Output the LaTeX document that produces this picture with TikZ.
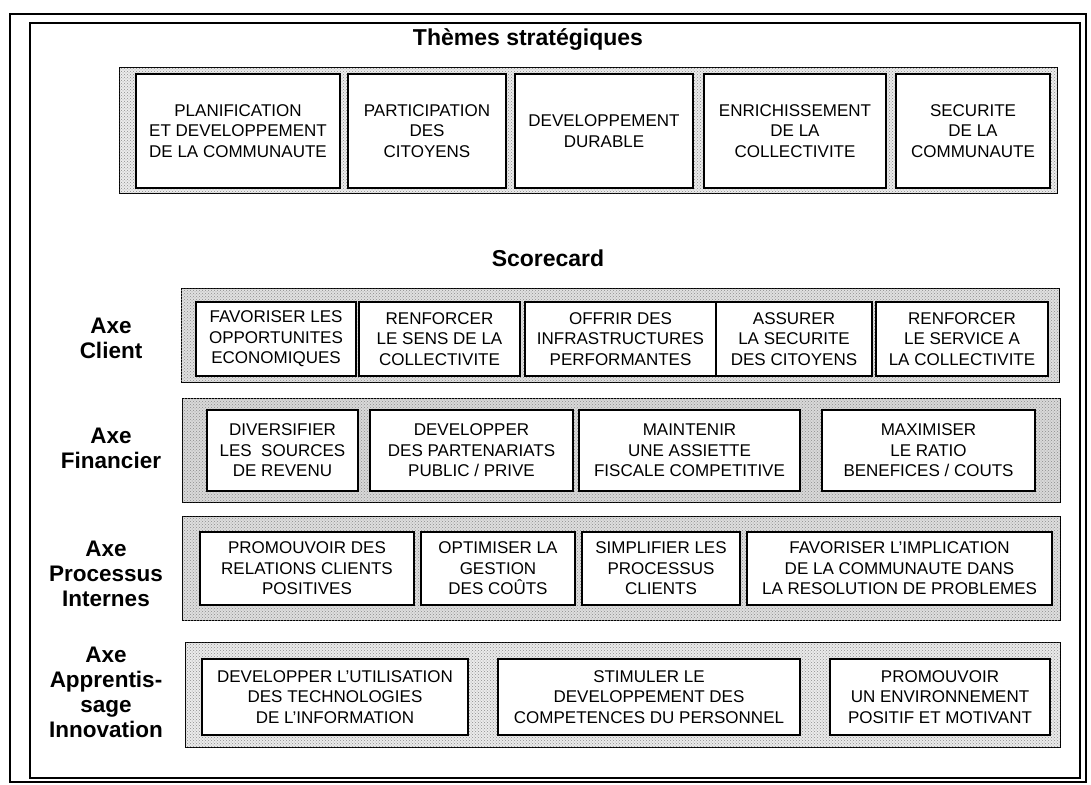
\documentclass[tikz,border=0pt]{standalone}
\usepackage{fontspec}
\setmainfont{Liberation Sans}
\usetikzlibrary{patterns}
\newcommand\cellbox[6]{\node[cell, minimum width={(#3-#2)*1pt}, minimum height={(#5-#4)*1pt}] (#1) at ({(#2+#3)/2},{(#4+#5)/2}) {#6};}
\newcommand\bandbox[6]{\node[band=#6, minimum width={(#3-#2)*1pt}, minimum height={(#5-#4)*1pt}] (#1) at ({(#2+#3)/2},{(#4+#5)/2}) {};}
\begin{document}
\begin{tikzpicture}[x=1pt,y=-1pt,
  cell/.style={draw=black, line width=1.3pt, fill=white, inner sep=0pt, align=center,
    font=\fontsize{17}{20.5}\selectfont},
  band/.style={draw=black, line width=1pt, fill=black!#1, inner sep=0pt,
    postaction={pattern=crosshatch dots, pattern color=black!45}},
  lab/.style={align=center, font=\fontsize{22.5}{25}\selectfont\bfseries},
  ttl/.style={font=\fontsize{23}{27}\selectfont\bfseries},
  frame/.style={draw=black, line width=1.4pt}]
\useasboundingbox (0,0) rectangle (1091,784);
\path[fill=white] (0,0) rectangle (1091,784);
% page frames
\node[frame, inner sep=0pt, minimum width=1076pt, minimum height=768pt] (outer) at (548,398) {};
\node[frame, inner sep=0pt, minimum width=1050pt, minimum height=755pt] (inner) at (555,400.5) {};
% titles
\node[ttl] (themes) at (528,40) {Thèmes stratégiques};
\node[ttl] (score) at (548,258) {Scorecard};
% strategic themes
\bandbox{bt}{119}{1057}{67}{193}{8}
\cellbox{t1}{136}{340}{74}{188}{PLANIFICATION\\ET DEVELOPPEMENT\\DE LA COMMUNAUTE}
\cellbox{t2}{348}{506}{74}{188}{PARTICIPATION\\DES\\CITOYENS}
\cellbox{t3}{515}{693}{74}{188}{DEVELOPPEMENT\\DURABLE}
\cellbox{t4}{704}{886}{74}{188}{ENRICHISSEMENT\\DE LA\\COLLECTIVITE}
\cellbox{t5}{896}{1050}{74}{188}{SECURITE\\DE LA\\COMMUNAUTE}
% client
\node[lab] (lc) at (111,338) {Axe\\Client};
\bandbox{bc}{181}{1059}{288}{382}{12}
\cellbox{c1}{196}{356}{302}{376}{FAVORISER LES\\OPPORTUNITES\\ECONOMIQUES}
\cellbox{c2}{359}{520}{302}{376}{RENFORCER\\LE SENS DE LA\\COLLECTIVITE}
\cellbox{c3}{525}{716}{302}{376}{OFFRIR DES\\INFRASTRUCTURES\\PERFORMANTES}
\cellbox{c4}{716}{872}{302}{376}{ASSURER\\LA SECURITE\\DES CITOYENS}
\cellbox{c5}{876}{1048}{302}{376}{RENFORCER\\LE SERVICE A\\LA COLLECTIVITE}
% financier
\node[lab] (lf) at (111,448) {Axe\\Financier};
\bandbox{bf}{182}{1060}{398}{502}{15}
\cellbox{f1}{207}{358}{410}{491}{DIVERSIFIER\\LES\ \ SOURCES\\DE REVENU}
\cellbox{f2}{370}{573}{410}{491}{DEVELOPPER\\DES PARTENARIATS\\PUBLIC / PRIVE}
\cellbox{f3}{579}{800}{410}{491}{MAINTENIR\\UNE ASSIETTE\\FISCALE COMPETITIVE}
\cellbox{f4}{822}{1035}{410}{491}{MAXIMISER\\LE RATIO\\BENEFICES / COUTS}
% processus
\node[lab] (lp) at (106,574) {Axe\\Processus\\Internes};
\bandbox{bp}{182}{1060}{516}{620}{13}
\cellbox{p1}{200}{414}{532}{605}{PROMOUVOIR DES\\RELATIONS CLIENTS\\POSITIVES}
\cellbox{p2}{421}{575}{532}{605}{OPTIMISER LA\\GESTION\\DES COÛTS}
\cellbox{p3}{582}{740}{532}{605}{SIMPLIFIER LES\\PROCESSUS\\CLIENTS}
\cellbox{p4}{747}{1052}{532}{605}{FAVORISER L'IMPLICATION\\DE LA COMMUNAUTE DANS\\LA RESOLUTION DE PROBLEMES}
% apprentissage
\node[lab] (la) at (106,692) {Axe\\Apprentis-\\sage\\Innovation};
\bandbox{ba}{185}{1060}{642}{747}{8}
\cellbox{a1}{202}{468}{659}{735}{DEVELOPPER L'UTILISATION\\DES TECHNOLOGIES\\DE L'INFORMATION}
\cellbox{a2}{498}{800}{659}{735}{STIMULER LE\\DEVELOPPEMENT DES\\COMPETENCES DU PERSONNEL}
\cellbox{a3}{830}{1050}{659}{735}{PROMOUVOIR\\UN ENVIRONNEMENT\\POSITIF ET MOTIVANT}
\end{tikzpicture}
\end{document}
